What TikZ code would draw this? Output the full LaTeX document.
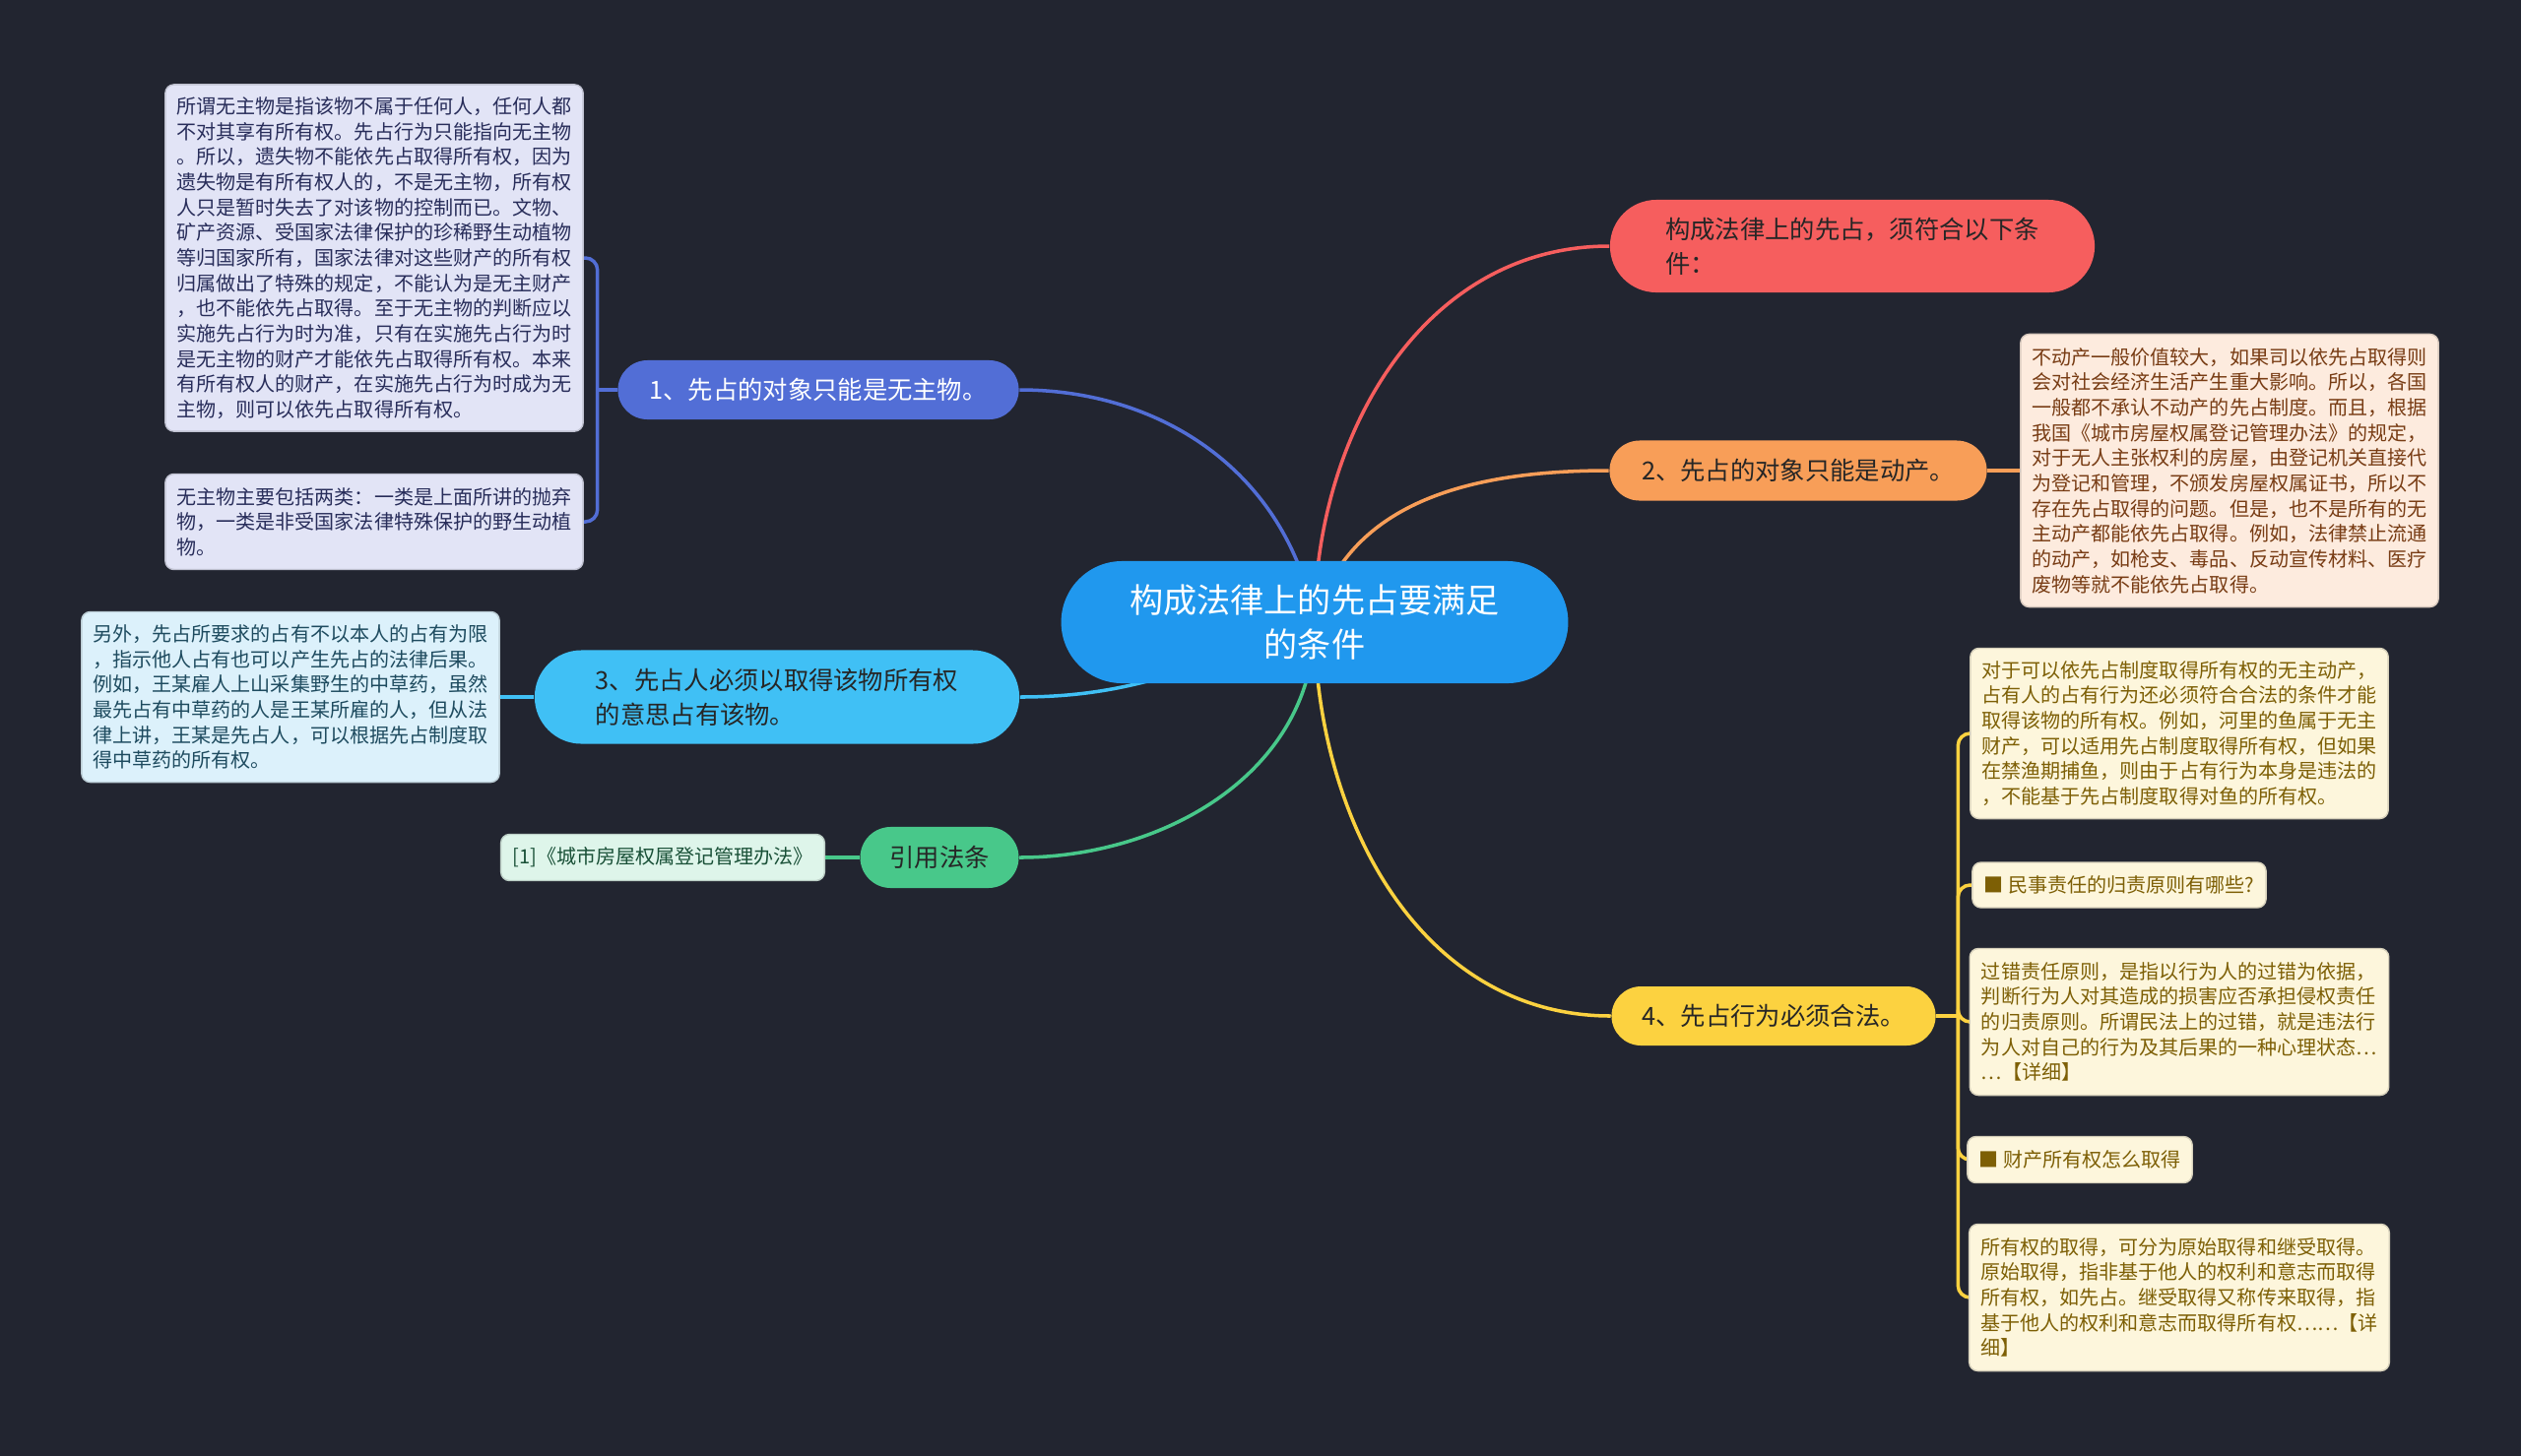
\documentclass[tikz,border=0pt]{standalone}
\usepackage{fontspec}
\newfontfamily\cjk{Noto Sans CJK SC}
\usetikzlibrary{shapes.misc, calc}
\definecolor{bgNavy}{RGB}{34,37,48}
\definecolor{hubB}{RGB}{32,152,238}
\definecolor{figR}{RGB}{246,94,94}
\definecolor{figO}{RGB}{248,158,88}
\definecolor{figP}{RGB}{82,110,214}
\definecolor{figC}{RGB}{64,192,245}
\definecolor{figG}{RGB}{72,200,138}
\definecolor{figY}{RGB}{252,210,64}
% leaf fills and texts
\definecolor{lfP}{RGB}{226,228,246}\definecolor{txP}{RGB}{40,45,90}
\definecolor{lfC}{RGB}{220,241,251}\definecolor{txC}{RGB}{30,75,95}
\definecolor{lfO}{RGB}{253,235,222}\definecolor{txO}{RGB}{120,60,20}
\definecolor{lfY}{RGB}{253,246,220}\definecolor{txY}{RGB}{125,95,5}
\definecolor{lfG}{RGB}{222,245,234}\definecolor{txG}{RGB}{25,80,55}
\pgfdeclarelayer{bg}
\pgfdeclarelayer{links}
\pgfsetlayers{bg,links,main}
\tikzset{
  hub/.style={rounded rectangle, fill=hubB, text=white, align=center,
    font=\cjk\fontsize{9.7pt}{13pt}\selectfont, minimum width=5.38cm, minimum height=1.24cm},
  topic/.style={rounded rectangle, fill=#1, text=black!85, align=left,
    font=\cjk\fontsize{7.2pt}{10pt}\selectfont, inner xsep=2pt},
  leafbox/.style 2 args={rectangle, rounded corners=2.5pt, fill=#1, draw=#1!85!black,
    line width=0.4pt, text=#2, align=left, minimum width=4.2cm,
    font=\cjk\fontsize{5.7pt}{7.3pt}\selectfont},
  link/.style={line width=1pt, draw=#1},
  brace/.style={line width=1pt, draw=#1, rounded corners=3.5pt}
}
\begin{document}
\begin{tikzpicture}[x=0.01cm, y=-0.01cm]
\useasboundingbox (0,0) rectangle (2560,1478);
\begin{pgfonlayer}{bg}
\fill[bgNavy] (-5,-5) rectangle (2565,1483);
\end{pgfonlayer}
% ====== central topic ======
\node[hub] (c) at (1335,632) {构成法律上的先占要满足\\的条件};
% ====== main branches ======
\node[topic=figR, minimum width=5.06cm, minimum height=0.94cm] (nR) at (1881,250)
  {构成法律上的先占，须符合以下条\\件：};
\node[topic=figO, minimum width=3.97cm, minimum height=0.61cm] (n2) at (1826,478)
  {2、先占的对象只能是动产。};
\node[topic=figP, text=white, minimum width=4.21cm, minimum height=0.60cm] (n1) at (831,396)
  {1、先占的对象只能是无主物。};
\node[topic=figC, minimum width=5.06cm, minimum height=0.95cm] (n3) at (789,708)
  {3、先占人必须以取得该物所有权\\的意思占有该物。};
\node[topic=figG, minimum width=1.75cm, minimum height=0.62cm] (nL) at (954,871)
  {引用法条};
\node[topic=figY, minimum width=3.43cm, minimum height=0.60cm] (n4) at (1801,1032)
  {4、先占行为必须合法。};
% --- leaves of 1 ---
\node[leafbox={lfP}{txP}, minimum height=3.52cm] (l1a) at (380,262)
  {所谓无主物是指该物不属于任何人，任何人都\\不对其享有所有权。先占行为只能指向无主物\\。所以，遗失物不能依先占取得所有权，因为\\遗失物是有所有权人的，不是无主物，所有权\\人只是暂时失去了对该物的控制而已。文物、\\矿产资源、受国家法律保护的珍稀野生动植物\\等归国家所有，国家法律对这些财产的所有权\\归属做出了特殊的规定，不能认为是无主财产\\，也不能依先占取得。至于无主物的判断应以\\实施先占行为时为准，只有在实施先占行为时\\是无主物的财产才能依先占取得所有权。本来\\有所有权人的财产，在实施先占行为时成为无\\主物，则可以依先占取得所有权。};
\node[leafbox={lfP}{txP}, minimum height=0.97cm] (l1b) at (380,530)
  {无主物主要包括两类：一类是上面所讲的抛弃\\物，一类是非受国家法律特殊保护的野生动植\\物。};
% --- leaf of 3 ---
\node[leafbox={lfC}{txC}, minimum height=1.73cm] (l3) at (295,708)
  {另外，先占所要求的占有不以本人的占有为限\\，指示他人占有也可以产生先占的法律后果。\\例如，王某雇人上山采集野生的中草药，虽然\\最先占有中草药的人是王某所雇的人，但从法\\律上讲，王某是先占人，可以根据先占制度取\\得中草药的所有权。};
% --- leaf of cited law ---
\node[leafbox={lfG}{txG}, minimum width=3.25cm, minimum height=0.47cm] (lL) at (673,871)
  {[1]《城市房屋权属登记管理办法》};
% --- leaf of 2 ---
\node[leafbox={lfO}{txO}, minimum width=4.21cm, minimum height=2.77cm] (l2) at (2264,478)
  {不动产一般价值较大，如果司以依先占取得则\\会对社会经济生活产生重大影响。所以，各国\\一般都不承认不动产的先占制度。而且，根据\\我国《城市房屋权属登记管理办法》的规定，\\对于无人主张权利的房屋，由登记机关直接代\\为登记和管理，不颁发房屋权属证书，所以不\\存在先占取得的问题。但是，也不是所有的无\\主动产都能依先占取得。例如，法律禁止流通\\的动产，如枪支、毒品、反动宣传材料、医疗\\废物等就不能依先占取得。};
% --- leaves of 4 ---
\node[leafbox={lfY}{txY}, minimum height=1.73cm] (l4a) at (2213,745)
  {对于可以依先占制度取得所有权的无主动产，\\占有人的占有行为还必须符合合法的条件才能\\取得该物的所有权。例如，河里的鱼属于无主\\财产，可以适用先占制度取得所有权，但如果\\在禁渔期捕鱼，则由于占有行为本身是违法的\\，不能基于先占制度取得对鱼的所有权。};
\node[leafbox={lfY}{txY}, minimum width=2.98cm, minimum height=0.46cm] (l4b) at (2152,899)
  {■ 民事责任的归责原则有哪些?};
\node[leafbox={lfY}{txY}, minimum height=1.49cm] (l4c) at (2213,1038)
  {过错责任原则，是指以行为人的过错为依据，\\判断行为人对其造成的损害应否承担侵权责任\\的归责原则。所谓民法上的过错，就是违法行\\为人对自己的行为及其后果的一种心理状态…\\…【详细】};
\node[leafbox={lfY}{txY}, minimum width=2.18cm, minimum height=0.47cm] (l4d) at (2112,1178)
  {■ 财产所有权怎么取得};
\node[leafbox={lfY}{txY}, minimum height=1.49cm] (l4e) at (2213,1318)
  {所有权的取得，可分为原始取得和继受取得。\\原始取得，指非基于他人的权利和意志而取得\\所有权，如先占。继受取得又称传来取得，指\\基于他人的权利和意志而取得所有权……【详\\细】};
% ====== connectors ======
\begin{pgfonlayer}{links}
\draw[link=figR] (c.center) to[out=90, in=180] (nR.west);
\draw[link=figO] (c.center) to[out=75, in=180] (n2.west);
\draw[link=figP] (c.center) to[out=100, in=0] (n1.east);
\draw[link=figC] (c.center) to[out=200, in=0] (n3.east);
\draw[link=figG] (c.center) to[out=-90, in=0] (nL.east);
\draw[link=figY] (c.center) to[out=-90, in=180] (n4.west);
% straight ties
\draw[link=figO] (n2.east) -- (l2.west);
\draw[link=figC] (n3.west) -- (l3.east);
\draw[link=figG] (nL.west) -- (lL.east);
% braces
\coordinate (j1) at ($(n1.west)+(-20,0)$);
\draw[link=figP] (n1.west) -- (j1);
\draw[brace=figP] (j1) |- (l1a.east);
\draw[brace=figP] (j1) |- (l1b.east);
\coordinate (j4) at ($(n4.east)+(22,0)$);
\draw[link=figY] (n4.east) -- (j4);
\foreach \k in {l4a,l4b,l4c,l4d,l4e}
  \draw[brace=figY] (j4) |- (\k.west);
\end{pgfonlayer}
\end{tikzpicture}
\end{document}
